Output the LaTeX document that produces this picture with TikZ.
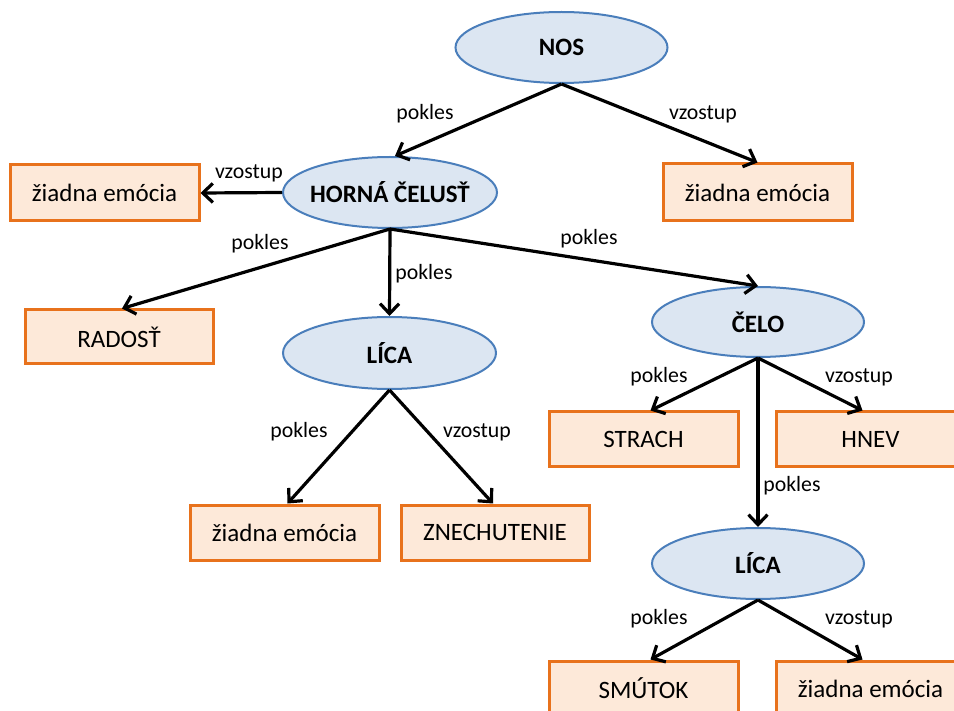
\documentclass[tikz,border=0pt]{standalone}
\usepackage{fontspec}
\setmainfont{Carlito}
\usetikzlibrary{shapes.geometric,arrows.meta}
\definecolor{ellfill}{HTML}{DCE6F2}
\definecolor{elldraw}{HTML}{4A7EBB}
\definecolor{boxfill}{HTML}{FDE9D9}
\definecolor{boxdraw}{HTML}{E8721C}
\newcommand{\zw}[1]{\makebox[0pt]{#1}}
\begin{document}
\begin{tikzpicture}[x=1pt,y=-1pt,
 ell/.style={ellipse,draw=elldraw,fill=ellfill,line width=2pt,minimum width=212pt,minimum height=71pt,inner sep=0pt,font=\fontsize{25}{28}\selectfont\bfseries},
 emo/.style={rectangle,draw=boxdraw,fill=boxfill,line width=3pt,minimum width=189pt,minimum height=56pt,inner sep=0pt,font=\fontsize{25}{28}\selectfont},
 lab/.style={font=\fontsize{21.8}{24}\selectfont,inner sep=0pt},
 arr/.style={line width=3.2pt,-{Straight Barb[length=10pt,width=19pt]}}]
\useasboundingbox (0,0) rectangle (954,711);
\clip (0,0) rectangle (954,711);
% ellipses
\node[ell] (nos) at (561.5,47.5) {\zw{NOS}};
\node[ell,minimum width=214pt] (hc) at (390,192.5) {\zw{HORNÁ ČELUSŤ}};
\node[ell,minimum width=213pt,minimum height=72pt] (lica1) at (389.5,353) {\zw{LÍCA}};
\node[ell,minimum height=70pt] (celo) at (758,322) {\zw{ČELO}};
\node[ell] (lica2) at (758,563.5) {\zw{LÍCA}};
% boxes
\node[emo,minimum height=57pt] (etr) at (757.5,192.5) {žiadna emócia};
\node[emo] (el) at (104.5,193) {žiadna emócia};
\node[emo,minimum height=54pt,minimum width=188pt] (radost) at (119,337) {RADOSŤ};
\node[emo,minimum height=55pt] (e1) at (284.5,532.5) {žiadna emócia};
\node[emo,minimum height=55pt,minimum width=188pt] (znech) at (495,532.5) {ZNECHUTENIE};
\node[emo,minimum height=55pt] (strach) at (643.5,439.5) {STRACH};
\node[emo,minimum height=55pt] (hnev) at (870.5,439.5) {HNEV};
\node[emo,minimum height=55pt] (smutok) at (643.5,688.5) {SMÚTOK};
\node[emo,minimum height=55pt] (e2) at (870.5,688.5) {žiadna emócia};
% arrows
\draw[arr] (nos.south) -- ([xshift=5pt]hc.north);
\draw[arr] (nos.south) -- (etr.north);
\draw[arr] (hc.west) -- (el.east);
\draw[arr] (hc.south) -- ([xshift=3pt]radost.north);
\draw[arr] (hc.south) -- (lica1.north);
\draw[arr] (hc.south) -- (celo.north);
\draw[arr] (lica1.south) -- ([xshift=3pt]e1.north);
\draw[arr] (lica1.south) -- ([xshift=-2pt]znech.north);
\draw[arr] (celo.south) -- ([xshift=7pt]strach.north);
\draw[arr] (celo.south) -- ([xshift=-8pt]hnev.north);
\draw[arr] (celo.south) -- (lica2.north);
\draw[arr] (lica2.south) -- ([xshift=7pt]smutok.north);
\draw[arr] (lica2.south) -- ([xshift=-8pt]e2.north);
% labels
\node[lab] (l1) at (425,114) {pokles};
\node[lab] (l2) at (703,114) {vzostup};
\node[lab] (l3) at (249,173) {vzostup};
\node[lab] (l4) at (260,244) {pokles};
\node[lab] (l5) at (424,274) {pokles};
\node[lab] (l6) at (589,239) {pokles};
\node[lab] (l7) at (299,432) {pokles};
\node[lab] (l8) at (477,432) {vzostup};
\node[lab] (l9) at (659,377) {pokles};
\node[lab] (l10) at (859,377) {vzostup};
\node[lab] (l11) at (792,486) {pokles};
\node[lab] (l12) at (659,619) {pokles};
\node[lab] (l13) at (859,619) {vzostup};
\end{tikzpicture}
\end{document}
